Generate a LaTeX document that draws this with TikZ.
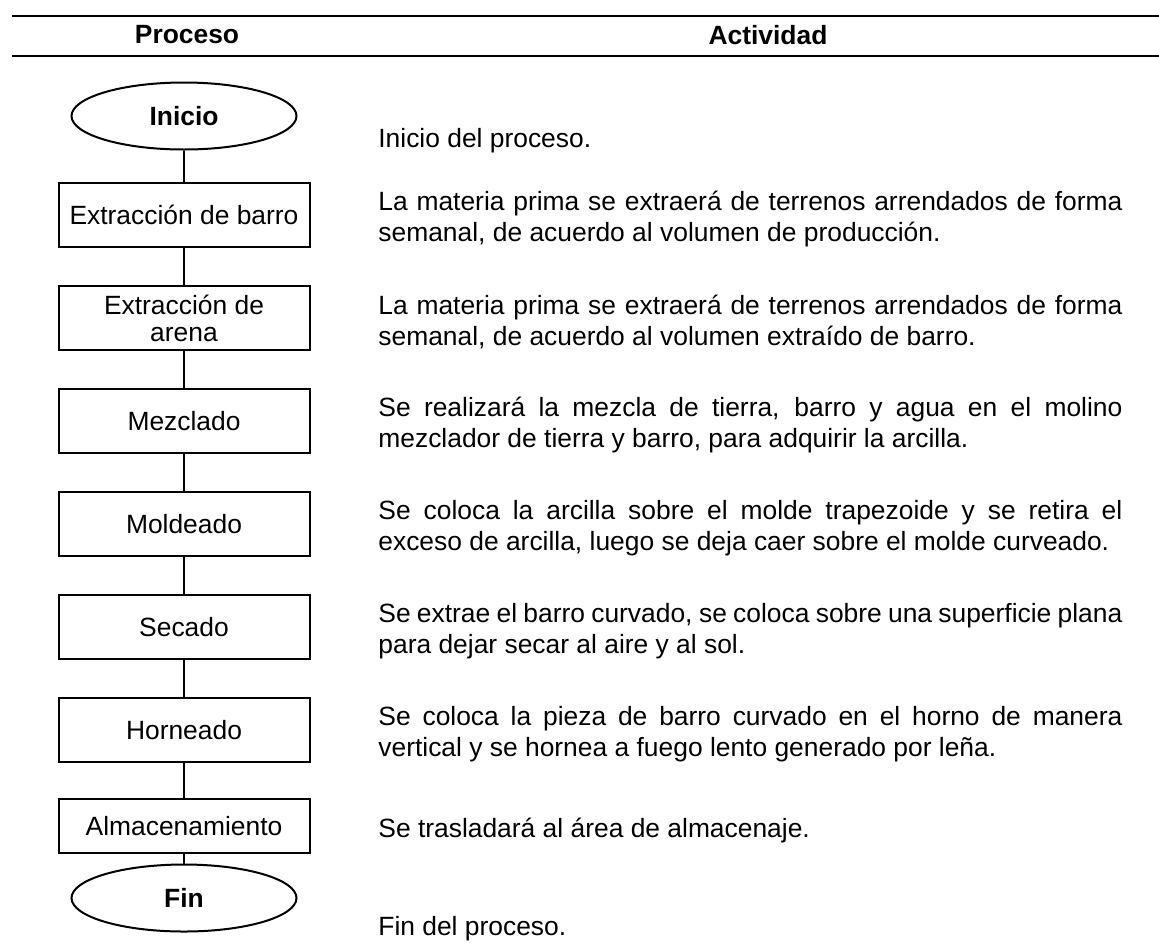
\documentclass[tikz,border=0pt]{standalone}
\usepackage{fontspec}
\setmainfont{Liberation Sans}
\usetikzlibrary{positioning,shapes.geometric}
\hyphenpenalty=10000
\exhyphenpenalty=10000

\begin{document}
\begin{tikzpicture}[x=0.5pt,y=-0.5pt,node distance=51.5pt,on grid,
        font=\fontsize{13.2}{15.5}\selectfont]
        \tikzstyle{proc}=[draw,line width=1pt,minimum width=125.5pt,minimum height=32pt,
                          inner sep=2pt,align=center,font=\fontsize{13.2}{13.5}\selectfont]
        \tikzstyle{term}=[draw,ellipse,line width=1pt,minimum width=112.5pt,minimum height=33.5pt,
                          inner sep=1pt,font=\fontsize{13.2}{15.5}\selectfont\bfseries]
        \tikzstyle{act}=[anchor=west,inner sep=0pt,text width=372pt,align=justify,yshift=-2pt]
        \tikzstyle{head}=[font=\fontsize{13.2}{15.5}\selectfont\bfseries]

        \useasboundingbox (0,0) rectangle (1159,944);

        % cabecera de la tabla
        \draw[line width=1pt] (12,16) -- (1159,16);
        \draw[line width=1pt] (12,56) -- (1159,56);
        \node[head] (hproc) at (187,35) {Proceso};
        \node[head] (hact)  at (768,35) {Actividad};

        % columna de proceso
        \node[term] (ini) at (184,116)   {Inicio};
        \node[proc] (b1)  at (184,215)   {Extracción de barro};
        \node[proc] (b2)  [below=of b1]  {Extracción de\\arena};
        \node[proc] (b3)  [below=of b2]  {Mezclado};
        \node[proc] (b4)  [below=of b3]  {Moldeado};
        \node[proc] (b5)  [below=of b4]  {Secado};
        \node[proc] (b6)  [below=of b5]  {Horneado};
        \node[proc, minimum height=27pt] (b7) [below=48pt of b6] {Almacenamiento};
        \node[term] (fin) [below=36pt of b7] {Fin};

        \path[line width=0.7pt]
            (ini) edge (b1)
            (b1)  edge (b2)
            (b2)  edge (b3)
            (b3)  edge (b4)
            (b4)  edge (b5)
            (b5)  edge (b6)
            (b6)  edge (b7)
            (b7)  edge (fin)
        ;

        % columna de actividad
        \coordinate (col) at (378,0);
        \node[act] (a0) at (378,137) {Inicio del proceso.};
        \node[act] (a1) at (col |- b1) {La materia prima se extraerá de terrenos arrendados de forma semanal, de acuerdo al volumen de producción.};
        \node[act] (a2) at (col |- b2) {La materia prima se extraerá de terrenos arrendados de forma semanal, de acuerdo al volumen extraído de barro.};
        \node[act] (a3) at (col |- b3) {Se realizará la mezcla de tierra, barro y agua en el molino mezclador de tierra y barro, para adquirir la arcilla.};
        \node[act] (a4) at (col |- b4) {Se coloca la arcilla sobre el molde trapezoide y se retira el\linebreak exceso de arcilla, luego se deja caer sobre el molde curveado.};
        \node[act] (a5) at (col |- b5) {Se extrae el barro curvado, se coloca sobre una superficie plana para dejar secar al aire y al sol.};
        \node[act] (a6) at (col |- b6) {Se coloca la pieza de barro curvado en el horno de manera vertical y se hornea a fuego lento generado por leña.};
        \node[act] (a7) at (col |- b7) {Se trasladará al área de almacenaje.};
        \node[act] (a8) at (378,925) {Fin del proceso.};
    \end{tikzpicture}
\end{document}
